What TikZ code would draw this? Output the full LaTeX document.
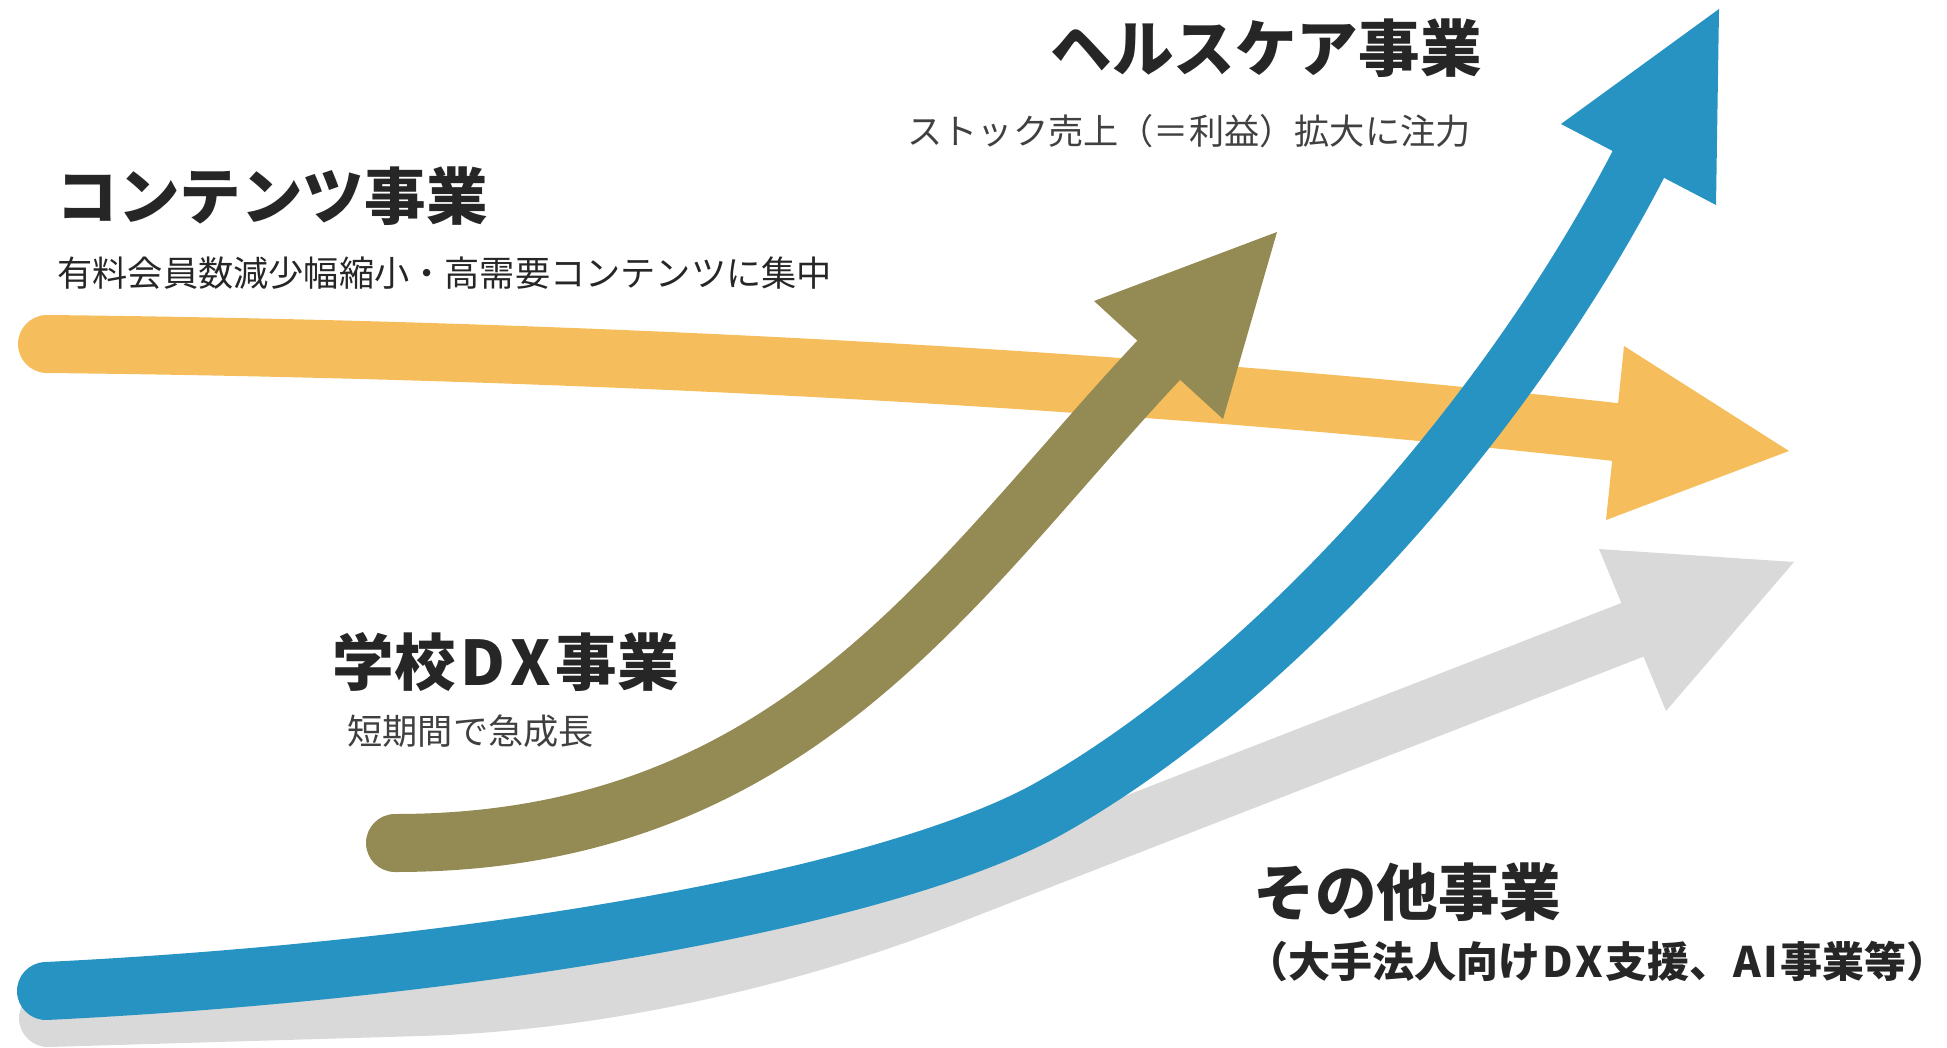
\documentclass[tikz,border=0pt]{standalone}
\usepackage{fontspec}
\newfontfamily\jp{Noto Sans CJK JP}
\definecolor{corange}{HTML}{F5BD5C}
\definecolor{colive}{HTML}{948A54}
\definecolor{cblue}{HTML}{2793C2}
\definecolor{cgrey}{HTML}{D9D9D9}
\definecolor{cdark}{HTML}{262626}
\definecolor{csub}{HTML}{404040}
\begin{document}
\begin{tikzpicture}[x=0.5pt,y=-0.5pt,
  body/.style={line width=29pt, line cap=round},
  ttl/.style={font=\jp\bfseries\fontsize{30.8pt}{36pt}\selectfont, text=cdark, anchor=west, inner sep=0pt},
  sub/.style={font=\jp\fontsize{17.6pt}{20pt}\selectfont, text=csub, anchor=west, inner sep=0pt},
  subb/.style={font=\jp\bfseries\fontsize{21pt}{24pt}\selectfont, text=cdark, anchor=west, inner sep=0pt}]
\useasboundingbox (0,0) rectangle (1947,1048);
% grey arrow
\coordinate (g0) at (48,1018);
\coordinate (g1) at (420,1007);
\coordinate (g2) at (940,899);
\coordinate (g3) at (1632,630);
\draw[body, cgrey] (g0) -- (g1) .. controls (600,1002) and (790,957) .. (g2) -- (g3);
\fill[cgrey] (1599,549) -- (1794,562) -- (1666,711) -- cycle;
% orange arrow
\coordinate (o0) at (47,344);
\coordinate (o3) at (1615,432);
\draw[body, corange] (o0) .. controls (600,350) and (1150,380) .. (o3);
\fill[corange] (1624,346) -- (1789,451) -- (1606,520) -- cycle;
% olive arrow
\coordinate (v0) at (395,843);
\coordinate (v3) at (1158,361);
\draw[body, colive] (v0) .. controls (795,843) and (953,580) .. (v3);
\fill[colive] (1094,301) -- (1277,232) -- (1223,419) -- cycle;
% blue arrow
\coordinate (b0) at (46,991);
\coordinate (b1) at (1050,808);
\coordinate (b3) at (1638,165);
\draw[body, cblue] (b0) .. controls (493,969) and (895,895) .. (b1) .. controls (1266,686) and (1501,429) .. (b3);
\fill[cblue] (1561,124) -- (1719,9) -- (1716,205) -- cycle;
% texts
\node[ttl] (t1) at (56,196) {コンテンツ事業};
\node[sub, text=cdark] (s1) at (57,273) {有料会員数減少幅縮小・高需要コンテンツに集中};
\node[ttl] (t2) at (1050,48) {ヘルスケア事業};
\node[sub] (s2) at (907,131) {ストック売上（＝利益）拡大に注力};
\node[ttl] (t3) at (332,662) {学校\kern2.5pt D\kern2.5pt X\kern2.5pt 事業};
\node[sub] (s3) at (347,731) {短期間で急成長};
\node[ttl] (t4) at (1253,892) {その他事業};
\node[subb] (s4) at (1246,961) {（大手法人向け\kern1.1pt D\kern1.1pt X\kern1.1pt 支援、\kern1.1pt A\kern1.1pt I\kern1.1pt 事業等）};
\end{tikzpicture}
\end{document}
